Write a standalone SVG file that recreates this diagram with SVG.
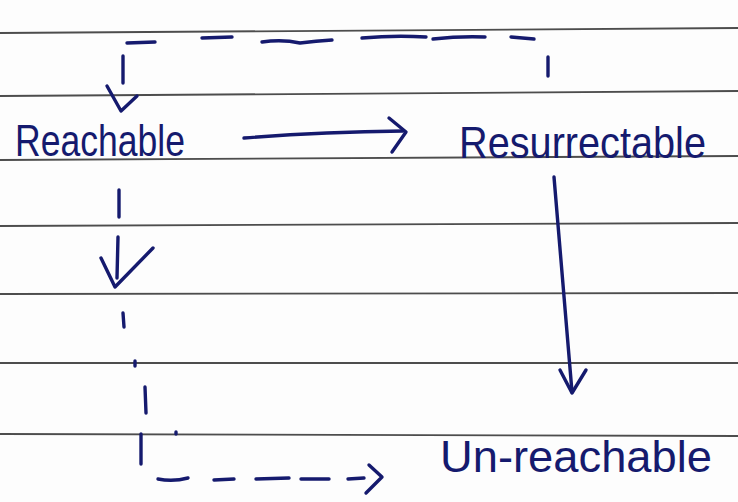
<svg xmlns="http://www.w3.org/2000/svg" width="738" height="502" viewBox="0 0 738 502">
  <style>
    .rule { stroke: #4d4d4d; stroke-width: 1.8; fill: none; }
    .ink { stroke: #151a6e; stroke-width: 3.4; fill: none; stroke-linecap: round; stroke-linejoin: round; }
    .label { font-family: "Liberation Sans", "DejaVu Sans", sans-serif; font-size: 44px; fill: #151a6e; }
  </style>
  <rect x="0" y="0" width="738" height="502" fill="#fdfdfd"/>
  <g id="paper-lines">
    <line class="rule" x1="0" y1="33" x2="738" y2="28"/>
    <line class="rule" x1="0" y1="96" x2="738" y2="91"/>
    <line class="rule" x1="0" y1="160" x2="738" y2="156"/>
    <line class="rule" x1="0" y1="226" x2="738" y2="223"/>
    <line class="rule" x1="0" y1="294" x2="738" y2="293"/>
    <line class="rule" x1="0" y1="363" x2="738" y2="363"/>
    <line class="rule" x1="0" y1="434" x2="738" y2="436"/>
  </g>
  <g id="node-reachable">
    <text class="label" x="15" y="156" textLength="170" lengthAdjust="spacingAndGlyphs">Reachable</text>
  </g>
  <g id="node-resurrectable">
    <text class="label" x="459" y="158" textLength="247" lengthAdjust="spacingAndGlyphs">Resurrectable</text>
  </g>
  <g id="node-unreachable">
    <text class="label" x="440" y="472" textLength="272" lengthAdjust="spacingAndGlyphs">Un-reachable</text>
  </g>
  <g id="connectors">
    <!-- Resurrectable back to Reachable (dashed, over the top) -->
    <g id="edge-resurrectable-reachable">
      <path class="ink" d="M548 76 L548 57"/>
      <path class="ink" d="M511 37 L534 39"/>
      <path class="ink" d="M433 39 Q460 36 485 37"/>
      <path class="ink" d="M362 38 Q395 35 426 37"/>
      <path class="ink" d="M262 42 Q282 39 300 43 Q316 41 332 40"/>
      <path class="ink" d="M202 38 L232 37"/>
      <path class="ink" d="M127 43 L155 42"/>
      <path class="ink" d="M123 56 L123 83"/>
      <path class="ink" d="M107 86 L121 111 L137 96"/>
    </g>
    <!-- Reachable to Resurrectable -->
    <g id="edge-reachable-resurrectable">
      <path class="ink" d="M244 138 Q320 132 403 131"/>
      <path class="ink" d="M389 118 L406 132 L392 152"/>
    </g>
    <!-- Resurrectable to Un-reachable -->
    <g id="edge-resurrectable-unreachable">
      <path class="ink" d="M554 177 L572 392"/>
      <path class="ink" d="M560 370 L572 393 L586 370"/>
    </g>
    <!-- Reachable to Un-reachable (dashed) -->
    <g id="edge-reachable-unreachable">
      <path class="ink" d="M119 190 L119 217"/>
      <path class="ink" d="M118 237 L117 278"/>
      <path class="ink" d="M101 258 L115 287 L153 248"/>
      <path class="ink" d="M123 313 L124 327"/>
      <path class="ink" d="M135 361 L135 366"/>
      <path class="ink" d="M145 387 L146 413"/>
      <path class="ink" d="M176 432 L176 434"/>
      <path class="ink" d="M141 434 L141 464"/>
      <path class="ink" d="M158 479 Q173 482 188 478"/>
      <path class="ink" d="M214 480 L234 479"/>
      <path class="ink" d="M256 479 L289 478"/>
      <path class="ink" d="M301 479 L329 479"/>
      <path class="ink" d="M348 479 L364 478"/>
      <path class="ink" d="M369 465 L382 477 L366 493"/>
    </g>
  </g>
</svg>
